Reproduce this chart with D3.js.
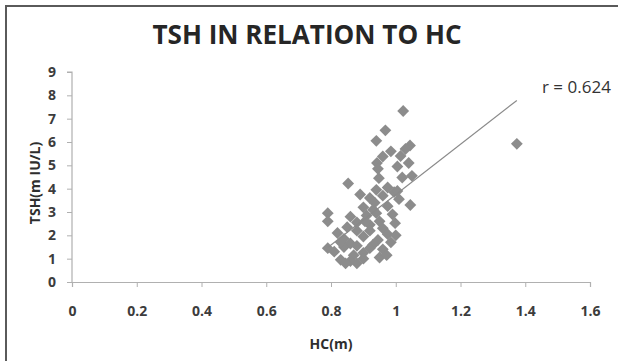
<!DOCTYPE html>
<html>
<head>
<meta charset="utf-8">
<script src="https://cdn.jsdelivr.net/npm/d3@7"></script>
<style>
  html, body { margin: 0; padding: 0; background: #fff; }
  svg { display: block; }
  text { font-family: "Open Sans", "Liberation Sans", sans-serif; }
</style>
</head>
<body>
<svg id="chart" width="618" height="361"></svg>
<script>
// HC (m) and TSH (mIU/L) for each subject
const hc = [
  1.023, 0.968, 0.940, 1.044, 1.030, 0.985, 0.960, 1.015, 0.942, 1.040,
  1.005, 0.945, 1.050, 0.948, 1.020, 0.853, 0.975, 0.940, 0.995, 0.890,
  0.960, 0.920, 1.010, 0.935, 0.900, 1.045, 0.975, 0.790, 0.860, 0.940,
  0.910, 0.990, 0.790, 0.880, 0.950, 0.998, 0.920, 0.850, 0.960, 0.820,
  0.880, 0.920, 0.975, 1.000, 0.900, 0.840, 0.945, 0.860, 0.930, 0.880,
  0.985, 0.790, 0.840, 0.920, 0.960, 0.810, 0.900, 0.870, 0.950, 0.972,
  0.830, 0.860, 0.900, 0.845, 0.880, 1.374, 0.930, 0.830, 0.905, 1.005
];
const tsh = [
  7.33, 6.50, 6.05, 5.85, 5.70, 5.60, 5.38, 5.40, 5.10, 5.10,
  4.95, 4.85, 4.55, 4.45, 4.48, 4.22, 4.05, 3.95, 3.85, 3.75,
  3.70, 3.60, 3.55, 3.40, 3.20, 3.30, 3.25, 2.95, 2.80, 2.95,
  2.85, 2.90, 2.60, 2.55, 2.60, 2.52, 2.45, 2.35, 2.30, 2.10,
  2.20, 2.20, 2.05, 2.00, 1.95, 1.85, 1.80, 1.65, 1.60, 1.55,
  1.70, 1.45, 1.50, 1.45, 1.40, 1.30, 1.25, 1.15, 1.05, 1.15,
  0.95, 0.90, 1.00, 0.80, 0.80, 5.92, 3.10, 1.70, 2.60, 3.90
];
const xTicks = [0, 0.2, 0.4, 0.6, 0.8, 1, 1.2, 1.4, 1.6];
const yTicks = [0, 1, 2, 3, 4, 5, 6, 7, 8, 9];
const titleText = "TSH IN RELATION TO HC";
const xTitle = "HC(m)";
const yTitle = "TSH(m IU/L)";
const rLabel = "r = 0.624";

const points = hc.map((h, i) => ({ hc: h, tsh: tsh[i] }));

const svg = d3.select("#chart");

// frame around the chart area
svg.append("rect")
  .attr("x", 6).attr("y", 6)
  .attr("width", 640).attr("height", 380)
  .attr("fill", "#fff")
  .attr("stroke", "#5a5a5a")
  .attr("stroke-width", 2);

const x = d3.scaleLinear().domain([0, 1.6]).range([72, 590]);
const y = d3.scaleLinear().domain([0, 9]).range([282, 72]);

// title
svg.append("text")
  .attr("x", 307).attr("y", 44)
  .attr("text-anchor", "middle")
  .attr("font-size", 26).attr("font-weight", 700)
  .attr("fill", "#262626")
  .attr("textLength", 309).attr("lengthAdjust", "spacingAndGlyphs")
  .text(titleText);

// axes
const yAxis = svg.append("g")
  .attr("transform", `translate(${x(0)},0)`)
  .call(d3.axisLeft(y).tickValues(yTicks).tickSize(5).tickPadding(11).tickFormat(d3.format("d")));
const xAxis = svg.append("g")
  .attr("transform", `translate(0,${y(0)})`)
  .call(d3.axisBottom(x).tickValues(xTicks).tickSize(5).tickPadding(19).tickFormat(d => String(d)));

[xAxis, yAxis].forEach(g => {
  g.select(".domain").attr("stroke", "#b0b0b0").attr("stroke-width", 1.2);
  g.selectAll(".tick line").attr("stroke", "#b0b0b0");
  g.selectAll(".tick text")
    .attr("font-size", 14).attr("font-weight", 700)
    .attr("fill", "#3c3c3c")
    .style("font-family", '"Open Sans", sans-serif');
});
yAxis.select(".domain").attr("d", `M-5,${y(9)}H0V${y(0)}`);

// axis titles
svg.append("text")
  .attr("x", 331).attr("y", 349)
  .attr("text-anchor", "middle")
  .attr("font-size", 14).attr("font-weight", 700)
  .attr("fill", "#2e2e2e")
  .text(xTitle);
svg.append("text")
  .attr("transform", "translate(40,183) rotate(-90)")
  .attr("text-anchor", "middle")
  .attr("font-size", 14).attr("font-weight", 700)
  .attr("fill", "#2e2e2e")
  .text(yTitle);

// least-squares trend line over the HC range
const mx = d3.mean(hc), my = d3.mean(tsh);
const sxy = d3.sum(points, p => (p.hc - mx) * (p.tsh - my));
const sxx = d3.sum(points, p => (p.hc - mx) ** 2);
const slope = sxy / sxx, intercept = my - slope * mx;
const [x0, x1] = d3.extent(hc);

// markers
const diamond = d3.symbol().type(d3.symbolSquare).size(70);
svg.append("g").selectAll("path")
  .data(points)
  .join("path")
  .attr("d", diamond)
  .attr("transform", d => `translate(${x(d.hc)},${y(d.tsh)}) rotate(45)`)
  .attr("fill", "#8c8c8c");

svg.append("line")
  .attr("x1", x(x0)).attr("y1", y(slope * x0 + intercept))
  .attr("x2", x(x1)).attr("y2", y(slope * x1 + intercept))
  .attr("stroke", "#8a8a8a").attr("stroke-width", 1.2);

svg.append("text")
  .attr("x", 542).attr("y", 93)
  .attr("font-size", 17)
  .attr("fill", "#333")
  .text(rLabel);
</script>
</body>
</html>
